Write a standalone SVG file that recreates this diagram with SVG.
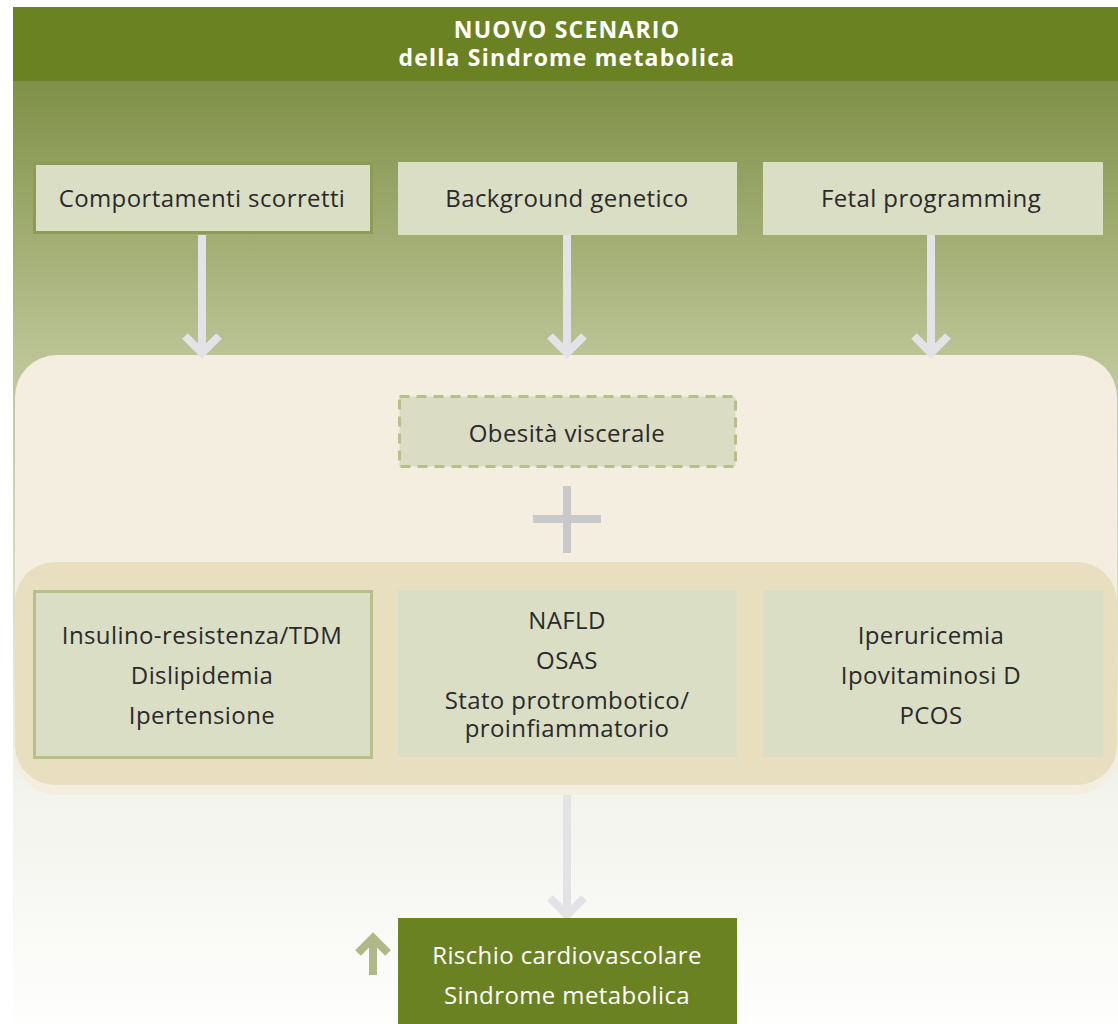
<svg xmlns="http://www.w3.org/2000/svg" width="1118" height="1024" viewBox="0 0 1118 1024">
<defs>
<linearGradient id="bg" x1="0" y1="81" x2="0" y2="1024" gradientUnits="userSpaceOnUse">
<stop offset="0" stop-color="#7f9047"/>
<stop offset="0.3" stop-color="#bdc597"/>
<stop offset="0.75" stop-color="#f2f3ec"/>
<stop offset="1" stop-color="#fefefd"/>
</linearGradient>
<style>
.t{font-family:"Open Sans","Noto Sans",sans-serif;font-size:24px;letter-spacing:0.4px;fill:#2a2a2a;text-anchor:middle}
.w{fill:#ffffff}
.h{font-family:"Open Sans","Noto Sans",sans-serif;font-size:23px;letter-spacing:1.2px;font-weight:bold;fill:#ffffff;text-anchor:middle}
.box{fill:#dadec5}
.arr{stroke:#e3e3e7;stroke-width:8;fill:none}
</style>
</defs>
<rect x="13" y="7" width="1105" height="1017" fill="url(#bg)"/>
<rect x="13" y="7" width="1105" height="74" fill="#6b8222"/>
<text class="h" x="567" y="38">NUOVO SCENARIO</text>
<text class="h" x="567" y="66">della Sindrome metabolica</text>
<rect x="15" y="355" width="1102" height="440" rx="42" fill="#f3eee0"/>
<rect x="15" y="562" width="1102" height="223" rx="40" fill="#e8dec0"/>
<g id="connectors">
<path class="arr" d="M202 235V350M185 336L202 353L219 336"/>
<path class="arr" d="M567 235V350M550 336L567 353L584 336"/>
<path class="arr" d="M931 235V350M914 336L931 353L948 336"/>
<path class="arr" d="M567 795V914M550 898L567 915L584 898"/>
<path d="M533 519H601M567 486V553" stroke="#c9c9cc" stroke-width="8" fill="none"/>
</g>
<g id="n1"><rect class="box" x="34.5" y="163.5" width="337" height="69" stroke="#8d9b55" stroke-width="3"/><text class="t" x="202" y="207">Comportamenti scorretti</text></g>
<g id="n2"><rect class="box" x="398" y="162" width="339" height="73"/><text class="t" x="567" y="207">Background genetico</text></g>
<g id="n3"><rect class="box" x="763" y="162" width="340" height="73"/><text class="t" x="931" y="207">Fetal programming</text></g>
<g id="n4"><rect x="399.5" y="396.5" width="336" height="70" fill="#dadcc4" stroke="#b9bf8a" stroke-width="3" stroke-dasharray="10,7"/><text class="t" x="567" y="442">Obesità viscerale</text></g>
<g id="n5"><rect class="box" x="34.5" y="591.5" width="337" height="166" stroke="#b7c08a" stroke-width="3"/>
<text class="t" x="202" y="644">Insulino-resistenza/TDM</text><text class="t" x="202" y="684">Dislipidemia</text><text class="t" x="202" y="724">Ipertensione</text></g>
<g id="n6"><rect class="box" x="398" y="590" width="339" height="167"/>
<text class="t" x="567" y="629">NAFLD</text><text class="t" x="567" y="669">OSAS</text><text class="t" x="567" y="709">Stato protrombotico/</text><text class="t" x="567" y="737">proinfiammatorio</text></g>
<g id="n7"><rect class="box" x="763" y="590" width="340" height="167"/>
<text class="t" x="931" y="644">Iperuricemia</text><text class="t" x="931" y="684">Ipovitaminosi D</text><text class="t" x="931" y="724">PCOS</text></g>
<g id="n8"><rect x="398" y="918" width="339" height="106" fill="#6b8222"/>
<text class="t w" x="567" y="964">Rischio cardiovascolare</text><text class="t w" x="567" y="1004">Sindrome metabolica</text>
<path d="M373 975V944M358 953L373 938L388 953" stroke="#b0b888" stroke-width="8" fill="none"/></g>
</svg>
